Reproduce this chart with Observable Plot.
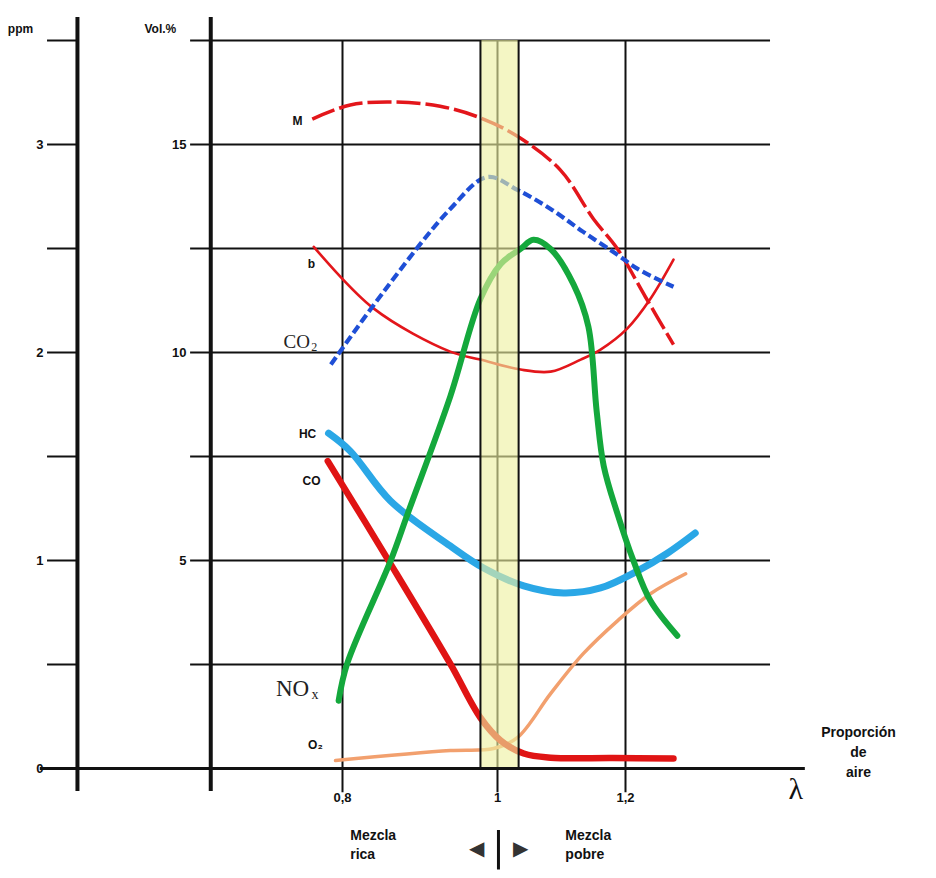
<!DOCTYPE html>
<html><head><meta charset="utf-8">
<script src="https://cdn.jsdelivr.net/npm/d3@7"></script>
<script src="https://cdn.jsdelivr.net/npm/@observablehq/plot@0.6"></script>
<style>body{margin:0;background:#fff} svg{display:block}</style>
</head><body><div id="chart"></div>
<script>
// λ (air ratio) ticks and labels
const lambdaTicks = [0.8, 1, 1.2];
const lambdaLabels = ["0,8", "1", "1,2"];
// Vol.% scale (left inner axis) and ppm scale (outer axis, ppm = Vol/5)
const volTicks = [5, 10, 15];
const ppmTicks = [0, 1, 2, 3];
const gridVol = [2.5, 5, 7.5, 10, 12.5, 15, 17.5];
// stoichiometric window (λ)
const bandLambda = [0.978, 1.033];

// Series (λ, value on Vol.% scale)
const mLambda = [0.761, 0.810, 0.868, 0.926, 0.978, 1.033, 1.098, 1.150, 1.1875, 1.231, 1.275];
const mVal    = [15.61, 15.95, 16.02, 15.92, 15.64, 15.18, 14.39, 13.21, 12.49, 11.34, 10.19];
const bLambda = [0.763, 0.840, 0.939, 0.978, 1.036, 1.083, 1.130, 1.161, 1.203, 1.239, 1.275];
const bVal    = [12.54, 11.06, 10.02, 9.83, 9.59, 9.54, 9.83, 10.07, 10.58, 11.29, 12.23];
const co2Lambda = [0.785, 0.853, 0.939, 0.987, 1.031, 1.083, 1.134, 1.1875, 1.219, 1.275];
const co2Val    = [9.71, 11.46, 13.45, 14.22, 13.91, 13.45, 12.90, 12.35, 12.01, 11.58];
const noxLambda = [0.795, 0.806, 0.862, 0.884, 0.939, 0.978, 1.005, 1.036, 1.056, 1.083, 1.119, 1.142, 1.155, 1.166, 1.1875, 1.2125, 1.239, 1.281];
const noxVal    = [1.63, 2.52, 4.99, 6.12, 8.94, 11.29, 12.13, 12.49, 12.71, 12.49, 11.63, 10.62, 8.58, 7.27, 6.12, 4.99, 4.03, 3.19];
const hcLambda = [0.782, 0.810, 0.862, 0.939, 0.982, 1.041, 1.103, 1.161, 1.219, 1.266, 1.309];
const hcVal    = [8.06, 7.63, 6.43, 5.35, 4.82, 4.39, 4.22, 4.34, 4.75, 5.18, 5.66];
const coLambda = [0.781, 0.862, 0.939, 0.978, 1.005, 1.041, 1.083, 1.180, 1.275];
const coVal    = [7.39, 4.92, 2.52, 1.22, 0.67, 0.36, 0.26, 0.25, 0.24];
const o2Lambda = [0.791, 0.939, 0.995, 1.031, 1.083, 1.134, 1.1875, 1.239, 1.294];
const o2Val    = [0.19, 0.43, 0.48, 0.74, 1.80, 2.76, 3.55, 4.20, 4.68];

// frame positions in λ units (axis lines, extents)
const ppmAxisLambda = 0.458, volAxisLambda = 0.630;
const gridLeft = 0.604, gridRight = 1.4266;
const baseLeft = 0.41, baseRight = 1.481;
const ppmTickLeft = 0.4194;

const zip = (xs, ys) => xs.map((x, i) => ({x, y: ys[i]}));
const series = [
  {data: zip(mLambda, mVal), stroke: "#e3161b", w: 3.5, dash: "24,5"},
  {data: zip(bLambda, bVal), stroke: "#e3161b", w: 2.6, dash: null},
  {data: zip(co2Lambda, co2Val), stroke: "#1f4fd6", w: 4.2, dash: "9,4"},
  {data: zip(o2Lambda, o2Val), stroke: "#f2a06e", w: 3.5, dash: null},
  {data: zip(coLambda, coVal), stroke: "#e01414", w: 6.5, dash: null},
  {data: zip(hcLambda, hcVal), stroke: "#2aa7e6", w: 7, dash: null},
  {data: zip(noxLambda, noxVal), stroke: "#14a83c", w: 6, dash: null}
];

const sans = "Liberation Sans, Arial, sans-serif";
const serif = "Liberation Serif, Times New Roman, serif";
const labels = [
  {x: 0.742, y: 15.55, t: "M"},
  {x: 0.760, y: 12.13, t: "b"},
  {x: 0.755, y: 8.03, t: "HC"},
  {x: 0.760, y: 6.91, t: "CO"},
  {x: 0.765, y: 0.55, t: "O₂"}
];

const curveMarks = series.map(s => Plot.line(s.data, {
  x: "x", y: "y", stroke: s.stroke, strokeWidth: s.w, curve: "catmull-rom",
  strokeDasharray: s.dash, strokeLinecap: s.dash ? "butt" : "round", strokeLinejoin: "round"
}));

const chart = Plot.plot({
  width: 936, height: 878,
  marginTop: 0, marginRight: 0, marginBottom: 0, marginLeft: 0,
  style: {background: "#fff", fontFamily: sans},
  x: {type: "linear", domain: [0.8, 1, 1.2], range: [342, 497, 625], axis: null},
  y: {type: "linear", domain: [0, 17.5], range: [768, 40], axis: null},
  marks: [
    // grid
    Plot.ruleY(gridVol, {y: d => d, x1: () => gridLeft, x2: () => gridRight, stroke: "#111", strokeWidth: 2}),
    Plot.ruleX(lambdaTicks, {x: d => d, y1: () => -0.58, y2: () => 17.5, stroke: "#111", strokeWidth: 2}),
    // curves
    ...curveMarks,
    // stoichiometric band
    Plot.rect([bandLambda], {x1: d => d[0], x2: d => d[1], y1: () => 0, y2: () => 17.5, fill: "#eef0a0", fillOpacity: 0.62}),
    Plot.ruleX(bandLambda, {x: d => d, y1: () => 0, y2: () => 17.5, stroke: "#111", strokeWidth: 2}),
    // axes frame
    Plot.ruleY([0], {y: d => d, x1: () => baseLeft, x2: () => baseRight, stroke: "#111", strokeWidth: 3}),
    Plot.ruleX([ppmAxisLambda, volAxisLambda], {x: d => d, y1: () => -0.55, y2: () => 18.05, stroke: "#111", strokeWidth: 4}),
    Plot.ruleY(gridVol.concat([0]), {y: d => d, x1: () => ppmTickLeft, x2: () => ppmAxisLambda, stroke: "#111", strokeWidth: 2}),
    // tick labels
    Plot.text(ppmTicks, {x: () => 0.4142, y: d => d * 5, text: d => String(d), textAnchor: "end", fontSize: 13, fontWeight: "bold", fill: "#111"}),
    Plot.text(volTicks, {x: () => 0.5987, y: d => d, text: d => String(d), textAnchor: "end", fontSize: 13, fontWeight: "bold", fill: "#111"}),
    Plot.text(lambdaTicks, {x: d => d, y: () => -0.70, text: (d, i) => lambdaLabels[i], fontSize: 13, fontWeight: "bold", fill: "#111"}),
    Plot.text(["ppm"], {x: () => 0.3845, y: () => 17.77, text: d => d, fontSize: 12, fontWeight: "bold", fill: "#111"}),
    Plot.text(["Vol.%"], {x: () => 0.565, y: () => 17.77, text: d => d, fontSize: 12, fontWeight: "bold", fill: "#111"}),
    // series labels
    Plot.text(labels, {x: "x", y: "y", text: "t", fontSize: 12, fontWeight: "bold", fill: "#111"}),
    Plot.text(["CO"], {x: () => 0.741, y: () => 10.26, text: d => d, fontSize: 19, fontFamily: serif, fill: "#222"}),
    Plot.text(["2"], {x: () => 0.7635, y: () => 10.12, text: d => d, fontSize: 12, fontFamily: serif, fill: "#222"}),
    Plot.text(["NO"], {x: () => 0.7355, y: () => 1.92, text: d => d, fontSize: 23, fontFamily: serif, fill: "#222"}),
    Plot.text(["x"], {x: () => 0.7645, y: () => 1.78, text: d => d, fontSize: 14, fontFamily: serif, fill: "#222"}),
    // λ axis title
    Plot.text(["λ"], {x: () => 1.466, y: () => -0.50, text: d => d, fontSize: 30, fontFamily: serif, fill: "#111"}),
    Plot.text(["Proporción\nde\naire"], {x: () => 1.564, y: () => 0.43, text: d => d, lineAnchor: "middle", lineHeight: 1.45, fontSize: 14, fontWeight: "bold", fill: "#111"}),
    // mixture legend
    Plot.text(["Mezcla\nrica"], {x: () => 0.810, y: () => -1.80, text: d => d, textAnchor: "start", lineHeight: 1.4, fontSize: 14, fontWeight: "bold", fill: "#111"}),
    Plot.text(["Mezcla\npobre"], {x: () => 1.106, y: () => -1.80, text: d => d, textAnchor: "start", lineHeight: 1.4, fontSize: 14, fontWeight: "bold", fill: "#111"}),
    Plot.text(["◀"], {x: () => 0.9735, y: () => -1.93, text: d => d, fontSize: 20, fill: "#333"}),
    Plot.text(["▶"], {x: () => 1.036, y: () => -1.93, text: d => d, fontSize: 20, fill: "#333"}),
    Plot.ruleX([1.0015], {x: d => d, y1: () => -1.49, y2: () => -2.44, stroke: "#111", strokeWidth: 3})
  ]
});
document.getElementById("chart").appendChild(chart);
</script></body></html>
